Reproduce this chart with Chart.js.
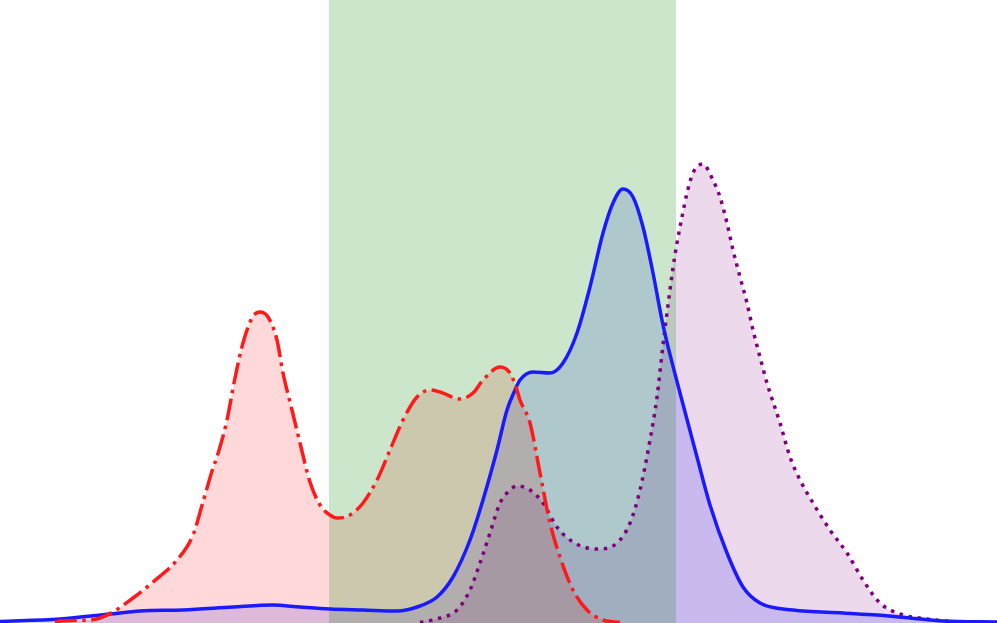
<!DOCTYPE html>
<html>
<head>
<meta charset="utf-8">
<script src="https://cdn.jsdelivr.net/npm/chart.js@4"></script>
<style>
  html, body { margin: 0; padding: 0; background: #ffffff; }
  #wrap { width: 997px; height: 623px; position: relative; }
</style>
</head>
<body>
<div id="wrap"><canvas id="chartDensidad"></canvas></div>
<script>
// curva roja (punto-raya)
const rojo_x = [0.55, 0.6, 0.9, 1.0, 1.13, 1.33, 1.53, 1.77, 1.93, 2.03, 2.13, 2.17, 2.27, 2.35, 2.43, 2.52, 2.60, 2.68, 2.77,
                2.83, 2.92, 3.00, 3.10, 3.20, 3.30, 3.37, 3.50, 3.63, 3.77, 3.90, 4.03, 4.17, 4.30, 4.40, 4.60, 4.73, 4.83, 5.00, 5.10,
                5.17, 5.20, 5.30, 5.40, 5.50, 5.60, 5.73, 5.87, 6.03, 6.20];
const rojo_y = [0.005, 0.02, 0.03, 0.05, 0.11, 0.25, 0.41, 0.63, 0.88, 1.21, 1.55, 1.66, 2.03, 2.45, 2.80, 3.05, 3.11, 3.06, 2.83,
                2.50, 2.13, 1.80, 1.41, 1.18, 1.08, 1.05, 1.08, 1.20, 1.43, 1.73, 2.03, 2.26, 2.33, 2.31, 2.24, 2.30, 2.43, 2.56, 2.50,
                2.33, 2.23, 2.00, 1.50, 1.00, 0.66, 0.33, 0.13, 0.03, 0.005];

// curva azul (continua)
const azul_x = [0, 0.6, 1.1, 1.4, 1.83, 2.33, 2.73, 3.0, 3.3, 3.63, 3.97, 4.17, 4.37, 4.53, 4.70, 4.83, 4.97, 5.07, 5.15, 5.20,
                5.33, 5.50, 5.63, 5.77, 5.90, 6.03, 6.13, 6.23, 6.33, 6.43, 6.53, 6.63, 6.80, 6.97, 7.10, 7.27, 7.43, 7.60, 7.93,
                8.43, 8.77, 9.10, 9.43, 9.97];
const azul_y = [0.015, 0.04, 0.09, 0.12, 0.13, 0.16, 0.18, 0.16, 0.14, 0.13, 0.12, 0.16, 0.26, 0.46, 0.83, 1.23, 1.73, 2.13, 2.33, 2.43,
                2.51, 2.50, 2.60, 2.90, 3.36, 3.90, 4.20, 4.34, 4.26, 3.96, 3.50, 2.98, 2.30, 1.66, 1.18, 0.70, 0.36, 0.20, 0.13,
                0.10, 0.08, 0.05, 0.02, 0.01];

// curva morada (punteada)
const morado_x = [4.20, 4.23, 4.40, 4.57, 4.70, 4.80, 4.90, 5.00, 5.10, 5.17, 5.30, 5.43, 5.57, 5.73, 5.97, 6.17, 6.30, 6.40, 6.50,
                  6.57, 6.63, 6.68, 6.73, 6.77, 6.82, 6.87, 6.93, 7.03, 7.12, 7.20, 7.27, 7.33, 7.40, 7.47, 7.53, 7.60, 7.67, 7.80, 7.90,
                  8.00, 8.13, 8.30, 8.47, 8.63, 8.80, 9.00, 9.27, 9.60, 9.97];
const morado_y = [0.005, 0.01, 0.05, 0.13, 0.33, 0.60, 0.90, 1.20, 1.33, 1.37, 1.33, 1.20, 0.96, 0.81, 0.74, 0.80, 1.00, 1.33, 1.83,
                  2.26, 2.78, 3.18, 3.55, 3.80, 4.06, 4.30, 4.50, 4.59, 4.45, 4.26, 4.00, 3.73, 3.46, 3.20, 2.93, 2.66, 2.40, 2.00, 1.66,
                  1.43, 1.20, 0.93, 0.70, 0.43, 0.20, 0.09, 0.04, 0.01, 0.005];

// franja verde
const franja = [3.29, 6.76];
const rango_x = [0, 9.97];
const rango_y = [0, 6.23];

const puntos = (xs, ys) => xs.map((x, i) => ({ x: x, y: ys[i] }));

const lw = 3.5;
const serie = (xs, ys, color, relleno, dash) => ({
    data: puntos(xs, ys),
    borderColor: color,
    backgroundColor: relleno,
    borderWidth: lw,
    borderDash: dash,
    borderCapStyle: 'butt',
    fill: 'origin',
    pointRadius: 0,
    cubicInterpolationMode: 'monotone',
});

const chartEl = document.getElementById('chartDensidad');
const chart = new Chart(chartEl, {
    type: 'line',
    data: {
        datasets: [
            serie(rojo_x, rojo_y, '#ff1a1a', 'rgba(255,0,0,0.15)', [22, 5.5, 3.5, 5.5]),
            serie(azul_x, azul_y, '#1a1aff', 'rgba(0,0,255,0.15)', []),
            serie(morado_x, morado_y, '#800080', 'rgba(128,0,128,0.15)', [3.5, 5.7]),
        ]
    },
    options: {
        responsive: true,
        maintainAspectRatio: false,
        animation: false,
        layout: { padding: 0 },
        plugins: {
            legend: { display: false },
            tooltip: { enabled: false },
            filler: { drawTime: 'beforeDraw' },
        },
        scales: {
            x: { type: 'linear', min: rango_x[0], max: rango_x[1], display: false },
            y: { min: rango_y[0], max: rango_y[1], display: false }
        }
    },
    plugins: [{
        id: 'franjaVerde',
        beforeDatasetsDraw(chart) {
            const { ctx, chartArea, scales } = chart;
            const x1 = scales.x.getPixelForValue(franja[0]);
            const x2 = scales.x.getPixelForValue(franja[1]);
            ctx.save();
            ctx.fillStyle = 'rgba(0,128,0,0.2)';
            ctx.fillRect(x1, chartArea.top, x2 - x1, chartArea.bottom - chartArea.top);
            ctx.restore();
        }
    }]
});
</script>
</body>
</html>
